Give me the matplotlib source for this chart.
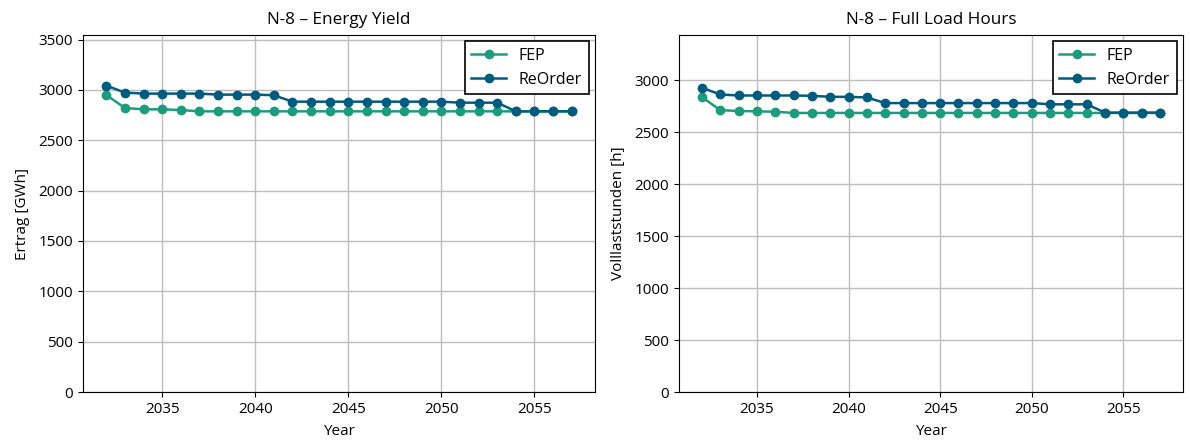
import numpy as np
import matplotlib.pyplot as plt

plt.rcParams['font.family'] = ['Open Sans', 'DejaVu Sans']
plt.rcParams['font.size'] = 10

years = list(range(2032, 2058))

# Energy yield [GWh]
yield_fep = [2950, 2820, 2807, 2807, 2800] + [2787] * 21
yield_reorder = ([3043, 2973, 2963, 2963, 2963, 2963, 2953, 2953, 2953, 2947]
                 + [2883] * 9 + [2873] * 3 + [2787] * 4)

# Full load hours [h]
flh_fep = [2838, 2712, 2704, 2700, 2697] + [2685] * 21
flh_reorder = ([2927, 2863, 2853, 2853, 2853, 2853, 2850, 2840, 2840, 2834]
               + [2780] * 9 + [2768] * 3 + [2688] * 4)

fep_color = '#1c9c7c'
reorder_color = '#005b7f'

fig = plt.figure(figsize=(11.9, 4.41), dpi=100)
ax1 = fig.add_axes([83 / 1190, 49 / 441, 512 / 1190, 357 / 441])
ax2 = fig.add_axes([679 / 1190, 49 / 441, 504 / 1190, 357 / 441])

panels = [
    (ax1, yield_fep, yield_reorder, 'N-8 – Energy Yield', 'Ertrag [GWh]', 3545),
    (ax2, flh_fep, flh_reorder, 'N-8 – Full Load Hours', 'Volllaststunden [h]', 3435),
]

for ax, fep, reorder, title, ylabel, ytop in panels:
    ax.plot(years, fep, marker='o', color=fep_color, linewidth=1.8, markersize=6, label='FEP')
    ax.plot(years, reorder, marker='o', color=reorder_color, linewidth=1.8, markersize=6, label='ReOrder')
    ax.set_title(title, fontsize=12.3, pad=8)
    ax.set_xlabel('Year', fontsize=11, labelpad=5)
    ax.set_ylabel(ylabel, fontsize=11, labelpad=6)
    ax.set_ylim(0, ytop)
    ax.set_xlim(2030.75, 2058.25)
    ax.set_xticks([2035, 2040, 2045, 2050, 2055])
    ax.set_yticks(np.arange(0, ytop, 500))
    ax.tick_params(labelsize=11)
    ax.grid(color='#bdbdbd', linewidth=1)
    ax.set_axisbelow(True)
    leg = ax.legend(loc='upper right', fancybox=False, edgecolor='black', framealpha=1,
                    fontsize=11.5, handlelength=2.2, borderaxespad=0.4)
    leg.get_frame().set_linewidth(1.2)

fig.savefig('out.png', dpi=100)
